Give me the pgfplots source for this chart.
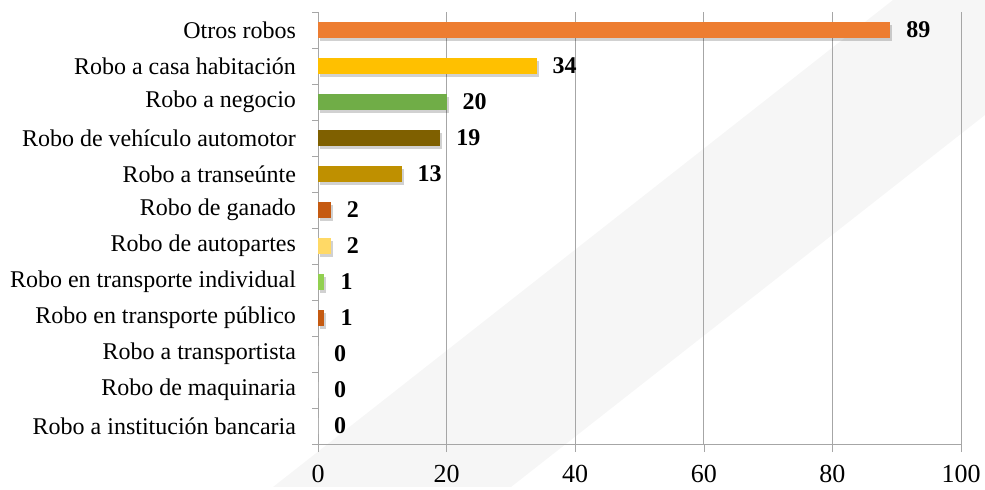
\documentclass[border=0pt]{standalone}
\usepackage{fontspec}
\setmainfont{Liberation Serif}
\usepackage{pgfplots}
\pgfplotsset{compat=1.18}
\usetikzlibrary{backgrounds}
\definecolor{cOtros}{HTML}{ED7D31}
\definecolor{cCasa}{HTML}{FFC000}
\definecolor{cNeg}{HTML}{70AD47}
\definecolor{cVeh}{HTML}{7F6000}
\definecolor{cTra}{HTML}{BF9000}
\definecolor{cGan}{HTML}{C55A11}
\definecolor{cAut}{HTML}{FFD966}
\definecolor{cInd}{HTML}{92D050}
\definecolor{cPub}{HTML}{C55A11}
\definecolor{gridgray}{HTML}{A6A6A6}
\definecolor{wm}{HTML}{F6F6F6}
\begin{document}
\begin{tikzpicture}
\begin{axis}[
  name=ax,
  width=321.5pt, height=216pt, scale only axis,
  xbar, bar width=8pt, bar shift=0pt,
  xmin=0, xmax=100, ymin=-0.5, ymax=11.5,
  xtick={0,20,...,100},
  ytick={0,...,11},
  yticklabels={Robo a institución bancaria, Robo de maquinaria, Robo a transportista, Robo en transporte público, Robo en transporte individual, Robo de autopartes, Robo de ganado, Robo a transeúnte, Robo de vehículo automotor, Robo a negocio, Robo a casa habitación, Otros robos},
  minor ytick={-0.5,0.5,...,11.5},
  axis x line*=bottom, axis y line*=left,
  axis line style={gridgray, -},
  xmajorgrids, major x grid style={gridgray},
  tick align=outside,
  major tick length=4pt, minor tick length=3pt,
  tick style={gridgray},
  every major y tick/.append style={draw=none},
  xticklabel style={font=\fontsize{13}{15}\selectfont, yshift=-3pt, inner xsep=0pt},
  yticklabel style={font=\fontsize{12}{14}\selectfont, xshift=-3.5pt},
  /pgf/number format/assume math mode=true,
  clip=false,
  nodes near coords,
  every node near coord/.append style={font=\bfseries\fontsize{12}{14}\selectfont, text=black, anchor=west, xshift=4.5pt},
  sh/.style={preaction={fill=black, fill opacity=0.18, transform canvas={xshift=1pt, yshift=-1.5pt}}},
]
\addplot[fill=cOtros, draw=none, sh] coordinates {(89,11)};
\addplot[fill=cCasa, draw=none, sh] coordinates {(34,10)};
\addplot[fill=cNeg, draw=none, sh] coordinates {(20,9)};
\addplot[fill=cVeh, draw=none, sh] coordinates {(19,8)};
\addplot[fill=cTra, draw=none, sh] coordinates {(13,7)};
\addplot[fill=cGan, draw=none, sh] coordinates {(2,6)};
\addplot[fill=cAut, draw=none, sh] coordinates {(2,5)};
\addplot[fill=cInd, draw=none, sh] coordinates {(1,4)};
\addplot[fill=cPub, draw=none, sh] coordinates {(1,3)};
\addplot[fill=white, draw=none] coordinates {(0,2)};
\addplot[fill=white, draw=none] coordinates {(0,1)};
\addplot[fill=white, draw=none] coordinates {(0,0)};
\path (rel axis cs:-0.4946,-0.0995) rectangle (rel axis cs:1.0373,1.0278);
\end{axis}
\begin{scope}[on background layer, shift={(ax.south west)}]
  \fill[wm] (-22.5pt,-21.5pt) -- (287.5pt,222pt) -- (333.5pt,222pt) -- (333.5pt,164.5pt) -- (96.5pt,-21.5pt) -- cycle;
\end{scope}
\end{tikzpicture}
\end{document}
